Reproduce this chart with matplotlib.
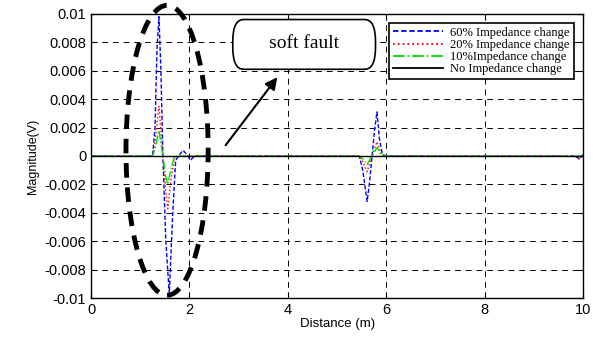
import matplotlib
matplotlib.use("Agg")
import matplotlib.pyplot as plt
from matplotlib.patches import Ellipse, FancyBboxPatch

# distance (m) and magnitude (V), one list per curve
x_60 = [0, 1.25, 1.30, 1.34, 1.38, 1.42, 1.46, 1.52, 1.59, 1.66, 1.72, 1.80, 1.87, 1.95, 2.02, 2.10,
        5.45, 5.52, 5.61, 5.66, 5.71, 5.76, 5.81, 5.86, 5.92, 6.00, 9.80, 9.88, 9.93, 9.97, 10]
y_60 = [0, 0, 0.002, 0.0075, 0.0098, 0.006, 0.0, -0.006, -0.0097, -0.004, -0.0003, 0.0001, 0.0004, 0.0001, -0.0003, 0,
        0, -0.001, -0.0032, -0.0018, 0.0, 0.0018, 0.0031, 0.0012, 0.0001, 0, 0, -0.0001, -0.00025, 0, 0.0001]

x_20 = [0, 1.25, 1.30, 1.38, 1.46, 1.52, 1.56, 1.63, 1.70, 1.80,
        5.45, 5.52, 5.61, 5.71, 5.81, 5.90, 6.00, 9.80, 9.88, 9.93, 9.97, 10]
y_20 = [0, 0, 0.001, 0.0035, 0.0, -0.0025, -0.0037, -0.0015, -0.0001, 0,
        0, -0.0004, -0.0011, 0, 0.001, 0.0001, 0, 0, -0.0001, -0.0002, 0, 0]

x_10 = [0, 1.25, 1.30, 1.38, 1.46, 1.52, 1.56, 1.63, 1.70, 1.80,
        5.45, 5.52, 5.61, 5.71, 5.81, 5.90, 6.00, 10]
y_10 = [0, 0, 0.0005, 0.0018, 0.0, -0.0015, -0.002, -0.0008, 0, 0,
        0, -0.0002, -0.0006, 0, 0.0006, 0.00005, 0, 0]

x_0 = [0, 10]
y_0 = [0, 0]

labels = ["60% Impedance change", "20% Impedance change",
          "10%Impedance change", "No Impedance change"]

fig = plt.figure(figsize=(5.93, 3.38), dpi=100)
ax = fig.add_axes([0.1535, 0.118, 0.83, 0.841])

ax.plot(x_60, y_60, color="blue", ls="--", lw=1.0, dashes=(3, 1.5), label=labels[0])
ax.plot(x_20, y_20, color="red", ls=":", lw=1.0, label=labels[1])
ax.plot(x_10, y_10, color="#00dd00", ls="-.", lw=1.0, label=labels[2])
ax.plot(x_0, y_0, color="black", ls="-", lw=1.0, label=labels[3])

ax.set_xlim(0, 10)
ax.set_ylim(-0.01, 0.01)
ax.set_xticks([0, 2, 4, 6, 8, 10])
ax.set_yticks([-0.01, -0.008, -0.006, -0.004, -0.002, 0, 0.002, 0.004, 0.006, 0.008, 0.01])
ax.set_yticklabels(["-0.01", "-0.008", "-0.006", "-0.004", "-0.002", "0",
                    "0.002", "0.004", "0.006", "0.008", "0.01"])
ax.grid(True, color="black", ls=(0, (6, 5)), lw=0.7)
ax.tick_params(direction="in", top=True, right=True, labelsize=10.5, length=4)
for lab in ax.get_xticklabels() + ax.get_yticklabels():
    lab.set_family("Liberation Sans")
for s in ax.spines.values():
    s.set_linewidth(1.0)

ax.set_xlabel("Distance (m)", family="Liberation Sans", fontsize=9.5, labelpad=1)
ax.set_ylabel("Magnitude(V)", family="Liberation Sans", fontsize=9, labelpad=4)

leg = ax.legend(loc="upper right", prop={"family": "Liberation Serif", "size": 9},
                fancybox=False, edgecolor="black", framealpha=1,
                handlelength=4.0, handletextpad=0.6, borderpad=0.3, labelspacing=0.02,
                bbox_to_anchor=(0.993, 0.99))
leg.get_frame().set_linewidth(1.2)
for h in leg.get_lines():
    h.set_linewidth(1.3)

# dashed ellipse around the soft fault
ell = Ellipse((1.545, 0.0004), 1.67, 0.0204, fill=False, edgecolor="black",
              lw=3.5, ls=(0, (3, 2)), clip_on=False, zorder=5)
ax.add_patch(ell)

# annotation box and arrow
ax.annotate("", xy=(3.82, 0.0057), xytext=(2.7, 0.0006),
            arrowprops=dict(arrowstyle="-|>", color="black", lw=1.5, mutation_scale=18))
box = FancyBboxPatch((2.88, 0.0061), 2.9, 0.0035,
                     boxstyle="round,pad=0,rounding_size=0.22", mutation_aspect=0.0014 / 0.2,
                     fc="white", ec="black", lw=1.2, zorder=6)
ax.add_patch(box)
ax.text(4.33, 0.0079, "soft fault", family="Liberation Serif", fontsize=14,
        ha="center", va="center", zorder=7)

fig.savefig("out.png", dpi=100)
